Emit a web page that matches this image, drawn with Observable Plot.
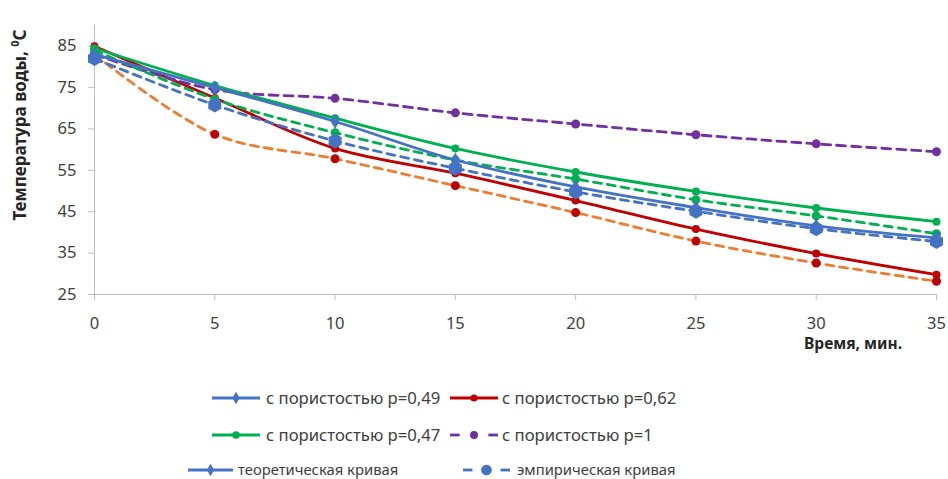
<!DOCTYPE html>
<html><head><meta charset="utf-8">
<script src="https://cdn.jsdelivr.net/npm/d3@7"></script>
<script src="https://cdn.jsdelivr.net/npm/@observablehq/plot@0.6"></script>
<style>
body{margin:0;background:#fff}
#chart{width:948px;height:479px}
</style>
</head><body><div id="chart"></div>
<script>
// ---- data ----
const times = [0, 5, 10, 15, 20, 25, 30, 35];
const porosity049 = [83, 75, 66.8, 57.5, 51, 46, 41.6, 38.7];
const porosity062 = [85, 72.5, 60.3, 54.3, 47.7, 40.8, 34.9, 29.8];
const porosity047 = [84.5, 75.5, 67.6, 60.3, 54.6, 49.9, 45.9, 42.6];
const porosity1 = [83, 74.5, 72.4, 68.9, 66.2, 63.6, 61.4, 59.5];
const empirical049 = [82, 70.8, 62.1, 55.5, 49.8, 45.1, 40.9, 37.8];
const empirical047 = [84, 72.2, 64.1, 57.5, 52.9, 47.9, 44, 39.7];
const empirical062 = [83, 63.7, 57.8, 51.3, 44.8, 37.9, 32.6, 28.2];
const yTicks = [25, 35, 45, 55, 65, 75, 85];
const xTicks = [0, 5, 10, 15, 20, 25, 30, 35];
const legendLabels = ["с пористостью р=0,49", "с пористостью р=0,62", "с пористостью р=0,47", "с пористостью р=1", "теоретическая кривая", "эмпирическая кривая"];
const xTitle = "Время, мин.";
const yTitle = "Температура воды, ";

const BLUE = "#4472C4", RED = "#C00000", GREEN = "#00B050", PURPLE = "#7030A0", ORANGE = "#ED7D31";
const FONT = "Noto Sans, sans-serif";

const series = [
  {values: empirical062, stroke: ORANGE, dash: "8,6", fill: RED, symbol: "circle", r: 4.5},
  {values: porosity062, stroke: RED, dash: null, fill: RED, symbol: "circle", r: 4},
  {values: porosity1, stroke: PURPLE, dash: "9,6", fill: PURPLE, symbol: "circle", r: 4.5},
  {values: empirical047, stroke: GREEN, dash: "8,6", fill: GREEN, symbol: "circle", r: 4.5},
  {values: porosity047, stroke: GREEN, dash: null, fill: GREEN, symbol: "circle", r: 4},
  {values: empirical049, stroke: BLUE, dash: "8,6", fill: BLUE, symbol: "hexagon", r: 6.5},
  {values: porosity049, stroke: BLUE, dash: null, fill: BLUE, symbol: "diamond", r: 4.5}
];

const marks = [
  Plot.ruleX([0], {stroke: "#bfbfbf", strokeWidth: 1}),
  Plot.ruleY([25], {stroke: "#bfbfbf", strokeWidth: 1}),
  Plot.axisY({ticks: yTicks, tickSize: 6, tickPadding: 12, fontSize: 16.5, label: null, stroke: "#bfbfbf", color: "#404040"}),
  Plot.axisX({ticks: xTicks, tickSize: 6, tickPadding: 17, fontSize: 16.5, label: null, stroke: "#bfbfbf", color: "#404040"})
];
for (const s of series) {
  const rows = times.map((t, i) => ({t, v: s.values[i]}));
  marks.push(Plot.line(rows, {x: "t", y: "v", stroke: s.stroke, strokeWidth: 2.8, strokeDasharray: s.dash || undefined, curve: "catmull-rom"}));
  marks.push(Plot.dot(rows, {x: "t", y: "v", symbol: s.symbol, r: s.r, fill: s.fill, stroke: "none"}));
}

const chart = Plot.plot({
  width: 948, height: 479,
  marginLeft: 94, marginRight: 12, marginTop: 25, marginBottom: 185,
  style: {fontFamily: FONT, color: "#404040", background: "#fff"},
  x: {domain: [0, 35], ticks: xTicks, label: null},
  y: {domain: [25, 90], ticks: yTicks, label: null},
  marks
});
document.getElementById("chart").appendChild(chart);

const svg = d3.select(chart);
// axis titles
const yt = svg.append("text").attr("transform", "translate(26,125) rotate(-90)")
  .attr("text-anchor", "middle").attr("font-family", FONT).attr("font-weight", "bold")
  .attr("font-size", 17).attr("fill", "#262626");
yt.append("tspan").text(yTitle);
yt.append("tspan").attr("font-size", 11).attr("dy", -7).text("0");
yt.append("tspan").attr("dy", 7).text("С");
svg.append("text").attr("x", 902).attr("y", 349).attr("text-anchor", "end")
  .attr("font-family", FONT).attr("font-weight", "bold").attr("font-size", 15.5)
  .attr("fill", "#262626").text(xTitle);

// legend
const sym = {circle: d3.symbolCircle, diamond: d3.symbolDiamond, hexagon: d3.symbolCircle};
function legendItem(x0, x1, y, color, dashed, symbol, size, label, tx, fs) {
  const g = svg.append("g");
  const xm = (x0 + x1) / 2;
  if (dashed) {
    const seg = (x1 - x0) * 0.2;
    g.append("line").attr("x1", x0).attr("x2", x0 + seg).attr("y1", y).attr("y2", y).attr("stroke", color).attr("stroke-width", 2.8);
    g.append("line").attr("x1", x1 - seg).attr("x2", x1).attr("y1", y).attr("y2", y).attr("stroke", color).attr("stroke-width", 2.8);
  } else {
    g.append("line").attr("x1", x0).attr("x2", x1).attr("y1", y).attr("y2", y).attr("stroke", color).attr("stroke-width", 2.8);
  }
  g.append("path").attr("d", d3.symbol(sym[symbol], size)()).attr("transform", `translate(${xm},${y})`).attr("fill", color);
  g.append("text").attr("x", tx).attr("y", y).attr("dy", "0.35em").attr("text-anchor", "start")
    .attr("font-family", FONT).attr("font-size", fs).attr("fill", "#404040").text(label);
}
legendItem(212, 260, 398, BLUE, false, "diamond", 45, legendLabels[0], 266, 16.7);
legendItem(450, 498, 398, RED, false, "circle", 40, legendLabels[1], 502, 16.7);
legendItem(212, 260, 435, GREEN, false, "circle", 45, legendLabels[2], 266, 16.7);
legendItem(450, 498, 435, PURPLE, true, "circle", 50, legendLabels[3], 502, 16.7);
legendItem(188, 233, 470, BLUE, false, "diamond", 45, legendLabels[4], 238, 14.8);
legendItem(463, 510, 470, BLUE, true, "hexagon", 90, legendLabels[5], 517, 14.8);
</script>
</body></html>
